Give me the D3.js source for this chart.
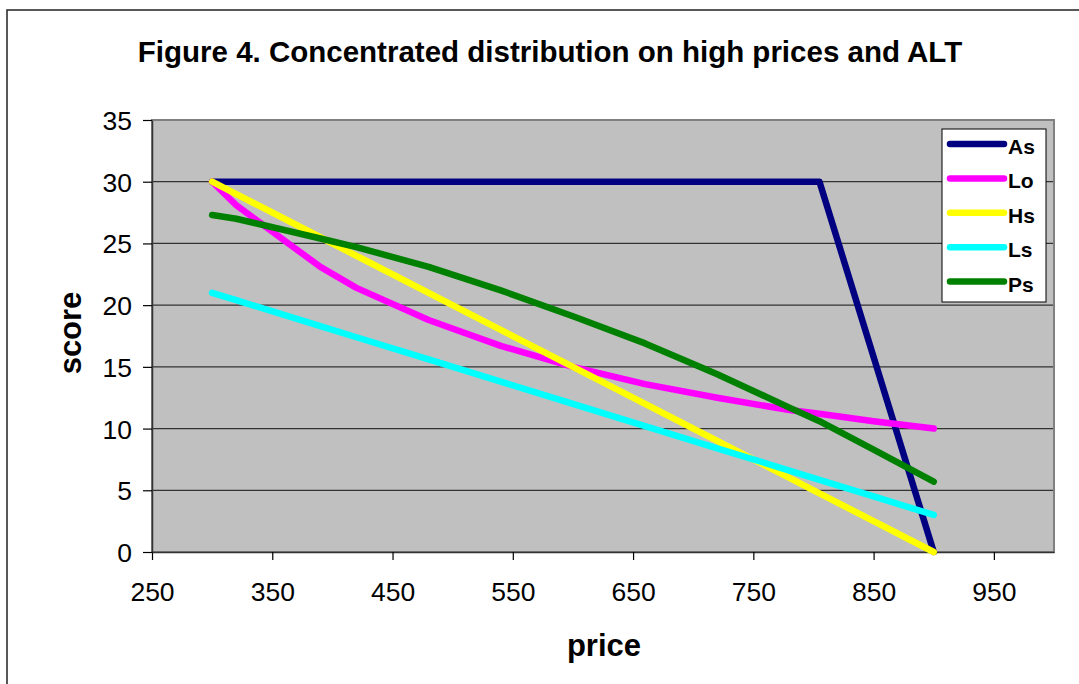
<!DOCTYPE html>
<html>
<head>
<meta charset="utf-8">
<script src="https://cdn.jsdelivr.net/npm/d3@7"></script>
<style>
  html, body { margin: 0; padding: 0; background: #fff; }
  svg { display: block; }
</style>
</head>
<body>
<svg id="chart" width="1079" height="684"></svg>
<script>
const titleText = "Figure 4. Concentrated distribution on high prices and ALT";
const xTitle = "price";
const yTitle = "score";
const prices = [300, 320, 390, 420, 480, 540, 600, 660, 720, 780, 805, 850, 900];
const seriesNames = ["As", "Lo", "Hs", "Ls", "Ps"];
const asValues = [30, 30, 30, 30, 30, 30, 30, 30, 30, 30, 30, 15.8, 0];
const loValues = [30, 28.1, 23.1, 21.4, 18.8, 16.7, 15.0, 13.6, 12.5, 11.5, 11.2, 10.6, 10.0];
const hsValues = [30, 29, 25.5, 24, 21, 18, 15, 12, 9, 6, 4.75, 2.5, 0];
const lsValues = [21, 20.4, 18.3, 17.4, 15.6, 13.8, 12, 10.2, 8.4, 6.6, 5.85, 4.5, 3];
const psValues = [27.3, 27.0, 25.4, 24.7, 23.1, 21.2, 19.1, 16.9, 14.4, 11.7, 10.6, 8.3, 5.7];
const seriesColors = ["#000080", "#FF00FF", "#FFFF00", "#00FFFF", "#008000"];
const xTicks = [250, 350, 450, 550, 650, 750, 850, 950];
const yTicks = [0, 5, 10, 15, 20, 25, 30, 35];

(function () {
const allValues = [asValues, loValues, hsValues, lsValues, psValues];
const series = seriesNames.map((name, i) => ({
  name, color: seriesColors[i],
  points: prices.map((p, j) => ({ x: p, y: allValues[i][j] }))
}));

const svg = d3.select("#chart");
const font = "Arial, 'Liberation Sans', sans-serif";

// outer frame
svg.append("rect").attr("x", 7).attr("y", 10).attr("width", 1100).attr("height", 700)
  .attr("fill", "#fff").attr("stroke", "#222").attr("stroke-width", 1.5);

const pL = 152, pR = 1054, pT = 120, pB = 552;
const x = d3.scaleLinear().domain([250, 1000]).range([pL, pR]);
const y = d3.scaleLinear().domain([0, 35]).range([pB, pT]);

// plot area background
svg.append("rect").attr("x", pL).attr("y", pT).attr("width", pR - pL).attr("height", pB - pT)
  .attr("fill", "#C0C0C0");

// gridlines
svg.append("g").selectAll("line").data(yTicks.filter(d => d > 0 && d < 35)).join("line")
  .attr("x1", pL).attr("x2", pR).attr("y1", d => y(d)).attr("y2", d => y(d))
  .attr("stroke", "#333").attr("stroke-width", 1.2);

// plot border
svg.append("rect").attr("x", pL).attr("y", pT).attr("width", pR - pL).attr("height", pB - pT)
  .attr("fill", "none").attr("stroke", "#808080").attr("stroke-width", 2);

// axes
const xAxis = d3.axisBottom(x).tickValues(xTicks).tickSize(8).tickSizeOuter(0).tickFormat(d3.format("d"));
const gx = svg.append("g").attr("transform", `translate(0,${pB})`).call(xAxis);
gx.select(".domain").attr("stroke", "#333").attr("stroke-width", 1.5);
gx.selectAll(".tick line").attr("stroke", "#000").attr("stroke-width", 1.2);
gx.selectAll(".tick text").attr("font-family", font).attr("font-size", 26.5).attr("fill", "#000")
  .attr("y", 49).attr("dy", null);

const yAxis = d3.axisLeft(y).tickValues(yTicks).tickSize(9).tickSizeOuter(0).tickFormat(d3.format("d"));
const gy = svg.append("g").attr("transform", `translate(${pL},0)`).call(yAxis);
gy.select(".domain").attr("stroke", "#333").attr("stroke-width", 1.5);
gy.selectAll(".tick line").attr("stroke", "#000").attr("stroke-width", 1.2);
gy.selectAll(".tick text").attr("font-family", font).attr("font-size", 26.5).attr("fill", "#000")
  .attr("x", -20).attr("dy", "0.36em");

// lines
const line = d3.line().x(d => x(d.x)).y(d => y(d.y));
svg.append("g").selectAll("path").data(series).join("path")
  .attr("d", d => line(d.points)).attr("fill", "none")
  .attr("stroke", d => d.color).attr("stroke-width", 6.5)
  .attr("stroke-linecap", "round").attr("stroke-linejoin", "round");

// legend
const lg = svg.append("g");
lg.append("rect").attr("x", 942).attr("y", 129).attr("width", 104).attr("height", 173)
  .attr("fill", "#fff").attr("stroke", "#000").attr("stroke-width", 1);
const items = lg.selectAll("g.item").data(series).join("g").attr("class", "item")
  .attr("transform", (d, i) => `translate(0,${144 + i * 34.4})`);
items.append("line").attr("x1", 950).attr("x2", 1004).attr("y1", 0).attr("y2", 0)
  .attr("stroke", d => d.color).attr("stroke-width", 6.5).attr("stroke-linecap", "round");
items.append("text").attr("x", 1008).attr("y", 10).text(d => d.name)
  .attr("font-family", font).attr("font-size", 21).attr("font-weight", "bold").attr("fill", "#000");

// titles
svg.append("text").attr("x", 550).attr("y", 62).attr("text-anchor", "middle")
  .attr("font-family", font).attr("font-size", 29.5).attr("font-weight", "bold").text(titleText);
svg.append("text").attr("x", 604).attr("y", 656).attr("text-anchor", "middle")
  .attr("font-family", font).attr("font-size", 31).attr("font-weight", "bold").text(xTitle);
svg.append("text").attr("transform", "translate(81,333) rotate(-90)").attr("text-anchor", "middle")
  .attr("font-family", font).attr("font-size", 31).attr("font-weight", "bold").text(yTitle);
})();
</script>
</body>
</html>
